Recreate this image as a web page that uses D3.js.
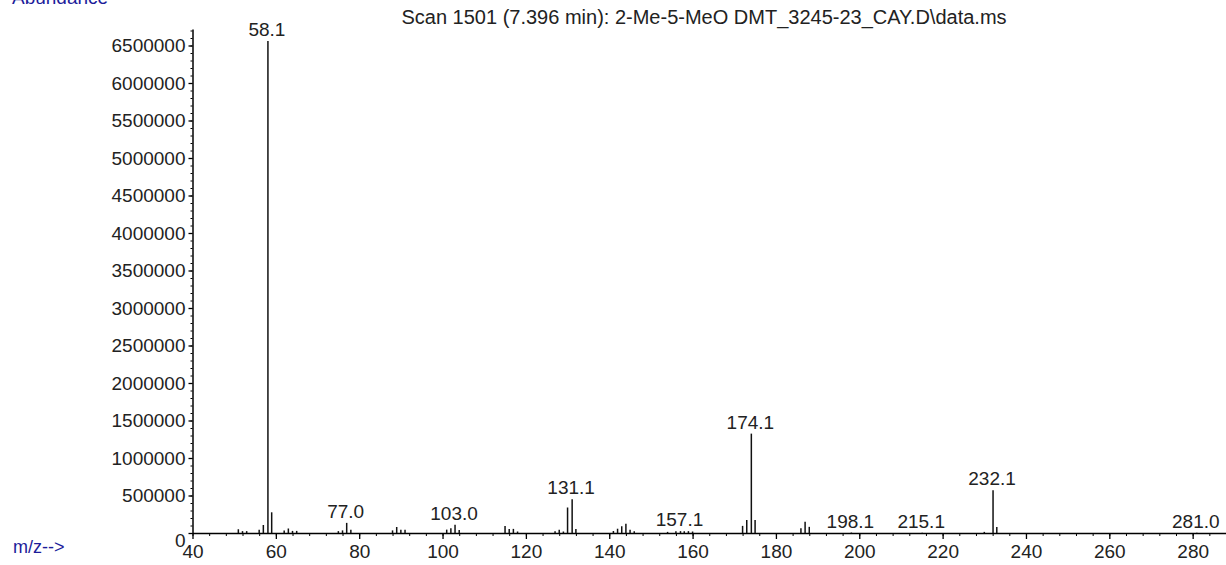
<!DOCTYPE html>
<html>
<head>
<meta charset="utf-8">
<script src="https://cdn.jsdelivr.net/npm/d3@7"></script>
<style>
  body { margin: 0; background: #fff; }
  svg { display: block; font-family: "Liberation Sans", Arial, sans-serif; }
</style>
</head>
<body>
<div id="chart"></div>
<script>
// peaks (m/z, abundance)
const mzValues = [51, 52, 53, 56, 57, 58.1, 59, 62, 63, 64, 65,
  75, 76, 77.0, 78, 88, 89, 90, 91, 101, 102, 103.0, 104,
  115, 116, 117, 118, 127, 128, 129, 130, 131.1, 132,
  141, 142, 143, 144, 145, 146, 154, 156, 157.1, 158, 159, 160,
  172, 173, 174.1, 175, 186, 187, 188, 198.1, 215.1, 230, 232.1, 233, 281.0];
const abundances = [50000, 25000, 25000, 45000, 107000, 6560000, 276000, 35000, 60000, 28000, 28000,
  25000, 35000, 135000, 45000, 35000, 80000, 45000, 45000, 45000, 65000, 110000, 40000,
  95000, 55000, 55000, 20000, 25000, 45000, 20000, 340000, 450000, 55000,
  27000, 57000, 90000, 125000, 45000, 25000, 15000, 25000, 25000, 25000, 25000, 20000,
  95000, 175000, 1325000, 175000, 62000, 150000, 82000, 6000, 5000, 15000, 570000, 80000, 4000];
const labeledPeaks = [58.1, 77.0, 103.0, 131.1, 157.1, 174.1, 198.1, 215.1, 232.1, 281.0];

const xTickValues = [40, 60, 80, 100, 120, 140, 160, 180, 200, 220, 240, 260, 280];
const yTickValues = [0, 500000, 1000000, 1500000, 2000000, 2500000, 3000000,
  3500000, 4000000, 4500000, 5000000, 5500000, 6000000, 6500000];

const titleText = "Scan 1501 (7.396 min): 2-Me-5-MeO DMT_3245-23_CAY.D\\data.ms";

const width = 1226, height = 565;
const fontSize = 19;

const peaks = mzValues.map((m, i) => ({ mz: m, ab: abundances[i] }));

const x = d3.scaleLinear().domain([40, 288]).range([192.5, 1226]);
const y = d3.scaleLinear().domain([0, 6720000]).range([533, 29]);

const svg = d3.select("#chart").append("svg")
  .attr("width", width)
  .attr("height", height);

// x axis, minor ticks every 4
svg.append("g")
  .attr("transform", `translate(0,${y(0)})`)
  .call(d3.axisBottom(x).tickValues(d3.range(40, 289, 4)).tickSize(3).tickSizeOuter(0).tickFormat(""))
  .call(g => g.select(".domain").attr("stroke-width", 1.5));

svg.append("g")
  .attr("transform", `translate(0,${y(0)})`)
  .call(d3.axisBottom(x).tickValues(xTickValues).tickSize(6).tickPadding(6).tickSizeOuter(0))
  .call(g => g.select(".domain").remove())
  .call(g => g.selectAll("line").attr("stroke-width", 1.3))
  .call(g => g.selectAll("text").attr("font-size", fontSize).attr("fill", "#222").attr("font-family", null));

// y axis, minor ticks every 100000
svg.append("g")
  .attr("transform", `translate(${x(40)},0)`)
  .call(d3.axisLeft(y).tickValues(d3.range(0, 6700001, 100000)).tickSize(2).tickSizeOuter(0).tickFormat(""))
  .call(g => g.select(".domain").attr("stroke-width", 1.5));

svg.append("g")
  .attr("transform", `translate(${x(40)},0)`)
  .call(d3.axisLeft(y).tickValues(yTickValues).tickSize(4).tickPadding(3).tickFormat(d3.format("d")).tickSizeOuter(0))
  .call(g => g.select(".domain").remove())
  .call(g => g.selectAll("line").attr("stroke-width", 1.3))
  .call(g => g.selectAll("text").attr("font-size", fontSize).attr("fill", "#222").attr("font-family", null))
  .call(g => g.selectAll(".tick text").filter(d => d === 0).attr("dy", "0.7em"));

// sticks
svg.append("g")
  .selectAll("line")
  .data(peaks)
  .join("line")
  .attr("x1", d => x(d.mz))
  .attr("x2", d => x(d.mz))
  .attr("y1", y(0))
  .attr("y2", d => y(d.ab))
  .attr("stroke", "#111")
  .attr("stroke-width", 1.5);

// peak labels
svg.append("g")
  .selectAll("text")
  .data(peaks.filter(d => labeledPeaks.includes(d.mz)))
  .join("text")
  .attr("x", d => x(d.mz) - 1)
  .attr("y", d => y(d.ab) - 5)
  .attr("text-anchor", "middle")
  .attr("font-size", fontSize)
  .attr("fill", "#222")
  .text(d => d3.format(".1f")(d.mz));

// title and axis captions
svg.append("text")
  .attr("x", 704)
  .attr("y", 24)
  .attr("text-anchor", "middle")
  .attr("font-size", 20)
  .attr("fill", "#222")
  .text(titleText);

svg.append("text")
  .attr("x", 12)
  .attr("y", 4)
  .attr("font-size", fontSize)
  .attr("fill", "#1c1c9a")
  .text("Abundance");

svg.append("text")
  .attr("x", 13)
  .attr("y", 553)
  .attr("font-size", 18)
  .attr("fill", "#1c1c9a")
  .text("m/z-->");
</script>
</body>
</html>
